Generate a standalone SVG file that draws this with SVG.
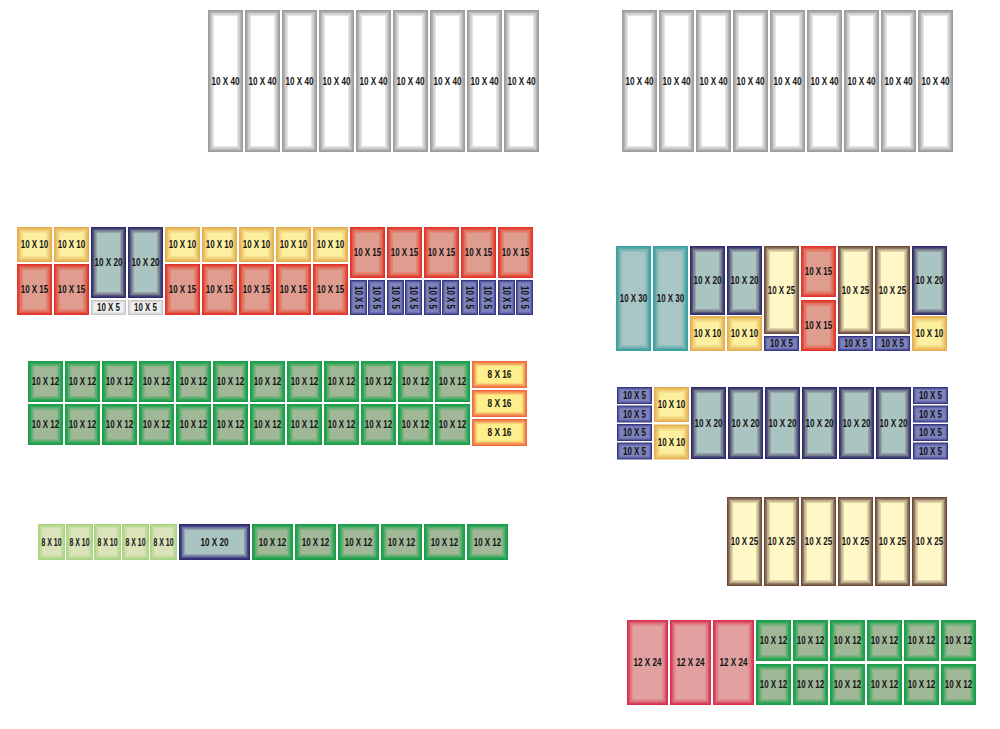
<svg xmlns="http://www.w3.org/2000/svg" width="1000" height="729" viewBox="0 0 1000 729">
<style>
.lb{font-family:"Liberation Sans",Arial,sans-serif;font-weight:bold;font-size:10.2px;fill:#141414;text-anchor:middle}
</style>
<defs>
<g id="gray"><rect width="35" height="142" fill="#9c9c9c"/><rect x="1.5" y="1.5" width="32" height="139" fill="#b4b4b4"/><rect x="3" y="3" width="29" height="136" fill="#cbcbcb"/><rect x="4.5" y="4.5" width="26" height="133" fill="#e4e4e4"/><rect x="6" y="6" width="23" height="130" fill="#ffffff"/></g>
<g id="yel"><rect width="35" height="35" fill="#e5ae52"/><rect x="1.5" y="1.5" width="32" height="32" fill="#ebc067"/><rect x="3" y="3" width="29" height="29" fill="#f1d27b"/><rect x="4.5" y="4.5" width="26" height="26" fill="#f6e28d"/><rect x="6" y="6" width="23" height="23" fill="#fcf0a0"/></g>
<g id="red"><rect width="35" height="51" fill="#e1322b"/><rect x="1.5" y="1.5" width="32" height="48" fill="#e35444"/><rect x="3" y="3" width="29" height="45" fill="#e2705f"/><rect x="4.5" y="4.5" width="26" height="42" fill="#e08878"/><rect x="6" y="6" width="23" height="39" fill="#df9d90"/></g>
<g id="navy71"><rect width="35" height="71" fill="#2d2a6d"/><rect x="1.5" y="1.5" width="32" height="68" fill="#55557a"/><rect x="3" y="3" width="29" height="65" fill="#777a8e"/><rect x="4.5" y="4.5" width="26" height="62" fill="#95a2a6"/><rect x="6" y="6" width="23" height="59" fill="#aac5c1"/></g>
<g id="navy69"><rect width="35" height="69" fill="#2d2a6d"/><rect x="1.5" y="1.5" width="32" height="66" fill="#55557a"/><rect x="3" y="3" width="29" height="63" fill="#777a8e"/><rect x="4.5" y="4.5" width="26" height="60" fill="#95a2a6"/><rect x="6" y="6" width="23" height="57" fill="#aac5c1"/></g>
<g id="navy72"><rect width="35" height="72" fill="#2d2a6d"/><rect x="1.5" y="1.5" width="32" height="69" fill="#55557a"/><rect x="3" y="3" width="29" height="66" fill="#777a8e"/><rect x="4.5" y="4.5" width="26" height="63" fill="#95a2a6"/><rect x="6" y="6" width="23" height="60" fill="#aac5c1"/></g>
<g id="navyh"><rect width="71" height="36" fill="#2d2a6d"/><rect x="1.5" y="1.5" width="68" height="33" fill="#4a4a8a"/><rect x="3" y="3" width="65" height="30" fill="#6d70a0"/><rect x="4.5" y="4.5" width="62" height="27" fill="#90a2b0"/><rect x="6" y="6" width="59" height="24" fill="#aac5c1"/></g>
<g id="lg5"><rect width="35" height="15" fill="#c6c6c6"/><rect x="1" y="1" width="33" height="13" fill="#d8d8d8"/><rect x="2" y="2" width="31" height="11" fill="#e6e6e6"/><rect x="3" y="3" width="29" height="9" fill="#f0f0f0"/></g>
<g id="b5v"><rect width="17" height="35" fill="#38387c"/><rect x="1" y="1" width="15" height="33" fill="#5558a0"/><rect x="2" y="2" width="13" height="31" fill="#6a70b0"/><rect x="3" y="3" width="11" height="29" fill="#7c82bc"/></g>
<g id="b5h"><rect width="35" height="15" fill="#38387c"/><rect x="1" y="1" width="33" height="13" fill="#5558a0"/><rect x="2" y="2" width="31" height="11" fill="#6a70b0"/><rect x="3" y="3" width="29" height="9" fill="#7c82bc"/></g>
<g id="b5s"><rect width="35" height="17" fill="#38387c"/><rect x="1" y="1" width="33" height="15" fill="#5558a0"/><rect x="2" y="2" width="31" height="13" fill="#6a70b0"/><rect x="3" y="3" width="29" height="11" fill="#7c82bc"/></g>
<g id="grn"><rect width="35" height="41" fill="#1b9d4a"/><rect x="1.5" y="1.5" width="32" height="38" fill="#2fa65a"/><rect x="3" y="3" width="29" height="35" fill="#55ad6c"/><rect x="4.5" y="4.5" width="26" height="32" fill="#80b482"/><rect x="6" y="6" width="23" height="29" fill="#a0b898"/></g>
<g id="grnh"><rect width="41" height="36" fill="#1b9d4a"/><rect x="1.5" y="1.5" width="38" height="33" fill="#2fa65a"/><rect x="3" y="3" width="35" height="30" fill="#55ad6c"/><rect x="4.5" y="4.5" width="32" height="27" fill="#80b482"/><rect x="6" y="6" width="29" height="24" fill="#a0b898"/></g>
<g id="org"><rect width="55" height="27" fill="#ee6840"/><rect x="1.3" y="1.3" width="52.4" height="24.4" fill="#f38a52"/><rect x="2.6" y="2.6" width="49.8" height="21.8" fill="#f8ae62"/><rect x="3.9" y="3.9" width="47.2" height="19.2" fill="#fbd676"/><rect x="5.2" y="5.2" width="44.6" height="16.6" fill="#fdf08c"/></g>
<g id="lgr"><rect width="27" height="36" fill="#a5d57e"/><rect x="1.2" y="1.2" width="24.6" height="33.6" fill="#b6d890"/><rect x="2.4" y="2.4" width="22.2" height="31.2" fill="#c6dca2"/><rect x="3.6" y="3.6" width="19.8" height="28.8" fill="#d2dfae"/><rect x="4.8" y="4.8" width="17.4" height="26.4" fill="#dbe3bb"/></g>
<g id="teal"><rect width="35" height="105" fill="#38a0a0"/><rect x="1.5" y="1.5" width="32" height="102" fill="#58a8aa"/><rect x="3" y="3" width="29" height="99" fill="#78b2b4"/><rect x="4.5" y="4.5" width="26" height="96" fill="#93bcbd"/><rect x="6" y="6" width="23" height="93" fill="#a9c6c6"/></g>
<g id="tan88"><rect width="35" height="88" fill="#6c4a3a"/><rect x="1.5" y="1.5" width="32" height="85" fill="#957c66"/><rect x="3" y="3" width="29" height="82" fill="#bbab8a"/><rect x="4.5" y="4.5" width="26" height="79" fill="#dfd6a8"/><rect x="6" y="6" width="23" height="76" fill="#fff7c6"/></g>
<g id="tan89"><rect width="35" height="89" fill="#6c4a3a"/><rect x="1.5" y="1.5" width="32" height="86" fill="#957c66"/><rect x="3" y="3" width="29" height="83" fill="#bbab8a"/><rect x="4.5" y="4.5" width="26" height="80" fill="#dfd6a8"/><rect x="6" y="6" width="23" height="77" fill="#fff7c6"/></g>
<g id="pink"><rect width="41" height="85" fill="#d72f50"/><rect x="1.5" y="1.5" width="38" height="82" fill="#da5466"/><rect x="3" y="3" width="35" height="79" fill="#dc7480"/><rect x="4.5" y="4.5" width="32" height="76" fill="#df8e92"/><rect x="6" y="6" width="29" height="73" fill="#e1a1a1"/></g>
</defs>

<!-- top left gray -->
<g id="tl1" transform="translate(208,10)"><use href="#gray"/><text class="lb" x="17.5" y="74.6" textLength="28" lengthAdjust="spacingAndGlyphs">10 X 40</text></g>
<g id="tl2" transform="translate(245,10)"><use href="#gray"/><text class="lb" x="17.5" y="74.6" textLength="28" lengthAdjust="spacingAndGlyphs">10 X 40</text></g>
<g id="tl3" transform="translate(282,10)"><use href="#gray"/><text class="lb" x="17.5" y="74.6" textLength="28" lengthAdjust="spacingAndGlyphs">10 X 40</text></g>
<g id="tl4" transform="translate(319,10)"><use href="#gray"/><text class="lb" x="17.5" y="74.6" textLength="28" lengthAdjust="spacingAndGlyphs">10 X 40</text></g>
<g id="tl5" transform="translate(356,10)"><use href="#gray"/><text class="lb" x="17.5" y="74.6" textLength="28" lengthAdjust="spacingAndGlyphs">10 X 40</text></g>
<g id="tl6" transform="translate(393,10)"><use href="#gray"/><text class="lb" x="17.5" y="74.6" textLength="28" lengthAdjust="spacingAndGlyphs">10 X 40</text></g>
<g id="tl7" transform="translate(430,10)"><use href="#gray"/><text class="lb" x="17.5" y="74.6" textLength="28" lengthAdjust="spacingAndGlyphs">10 X 40</text></g>
<g id="tl8" transform="translate(467,10)"><use href="#gray"/><text class="lb" x="17.5" y="74.6" textLength="28" lengthAdjust="spacingAndGlyphs">10 X 40</text></g>
<g id="tl9" transform="translate(504,10)"><use href="#gray"/><text class="lb" x="17.5" y="74.6" textLength="28" lengthAdjust="spacingAndGlyphs">10 X 40</text></g>

<!-- top right gray -->
<g id="tr1" transform="translate(622,10)"><use href="#gray"/><text class="lb" x="17.5" y="74.6" textLength="28" lengthAdjust="spacingAndGlyphs">10 X 40</text></g>
<g id="tr2" transform="translate(659,10)"><use href="#gray"/><text class="lb" x="17.5" y="74.6" textLength="28" lengthAdjust="spacingAndGlyphs">10 X 40</text></g>
<g id="tr3" transform="translate(696,10)"><use href="#gray"/><text class="lb" x="17.5" y="74.6" textLength="28" lengthAdjust="spacingAndGlyphs">10 X 40</text></g>
<g id="tr4" transform="translate(733,10)"><use href="#gray"/><text class="lb" x="17.5" y="74.6" textLength="28" lengthAdjust="spacingAndGlyphs">10 X 40</text></g>
<g id="tr5" transform="translate(770,10)"><use href="#gray"/><text class="lb" x="17.5" y="74.6" textLength="28" lengthAdjust="spacingAndGlyphs">10 X 40</text></g>
<g id="tr6" transform="translate(807,10)"><use href="#gray"/><text class="lb" x="17.5" y="74.6" textLength="28" lengthAdjust="spacingAndGlyphs">10 X 40</text></g>
<g id="tr7" transform="translate(844,10)"><use href="#gray"/><text class="lb" x="17.5" y="74.6" textLength="28" lengthAdjust="spacingAndGlyphs">10 X 40</text></g>
<g id="tr8" transform="translate(881,10)"><use href="#gray"/><text class="lb" x="17.5" y="74.6" textLength="28" lengthAdjust="spacingAndGlyphs">10 X 40</text></g>
<g id="tr9" transform="translate(918,10)"><use href="#gray"/><text class="lb" x="17.5" y="74.6" textLength="28" lengthAdjust="spacingAndGlyphs">10 X 40</text></g>

<!-- left mixed row -->
<g id="l1a" transform="translate(17,227)"><use href="#yel"/><text class="lb" x="17.5" y="21.1" textLength="27.5" lengthAdjust="spacingAndGlyphs">10 X 10</text></g>
<g id="l1b" transform="translate(17,264)"><use href="#red"/><text class="lb" x="17.5" y="29.1" textLength="27.5" lengthAdjust="spacingAndGlyphs">10 X 15</text></g>
<g id="l2a" transform="translate(54,227)"><use href="#yel"/><text class="lb" x="17.5" y="21.1" textLength="27.5" lengthAdjust="spacingAndGlyphs">10 X 10</text></g>
<g id="l2b" transform="translate(54,264)"><use href="#red"/><text class="lb" x="17.5" y="29.1" textLength="27.5" lengthAdjust="spacingAndGlyphs">10 X 15</text></g>
<g id="l3a" transform="translate(91,227)"><use href="#navy71"/><text class="lb" x="17.5" y="39.1" textLength="28" lengthAdjust="spacingAndGlyphs">10 X 20</text></g>
<g id="l3b" transform="translate(91,300)"><use href="#lg5"/><text class="lb" x="17.5" y="11.1" textLength="23" lengthAdjust="spacingAndGlyphs">10 X 5</text></g>
<g id="l4a" transform="translate(128,227)"><use href="#navy71"/><text class="lb" x="17.5" y="39.1" textLength="28" lengthAdjust="spacingAndGlyphs">10 X 20</text></g>
<g id="l4b" transform="translate(128,300)"><use href="#lg5"/><text class="lb" x="17.5" y="11.1" textLength="23" lengthAdjust="spacingAndGlyphs">10 X 5</text></g>
<g id="l5a" transform="translate(165,227)"><use href="#yel"/><text class="lb" x="17.5" y="21.1" textLength="27.5" lengthAdjust="spacingAndGlyphs">10 X 10</text></g>
<g id="l5b" transform="translate(165,264)"><use href="#red"/><text class="lb" x="17.5" y="29.1" textLength="27.5" lengthAdjust="spacingAndGlyphs">10 X 15</text></g>
<g id="l6a" transform="translate(202,227)"><use href="#yel"/><text class="lb" x="17.5" y="21.1" textLength="27.5" lengthAdjust="spacingAndGlyphs">10 X 10</text></g>
<g id="l6b" transform="translate(202,264)"><use href="#red"/><text class="lb" x="17.5" y="29.1" textLength="27.5" lengthAdjust="spacingAndGlyphs">10 X 15</text></g>
<g id="l7a" transform="translate(239,227)"><use href="#yel"/><text class="lb" x="17.5" y="21.1" textLength="27.5" lengthAdjust="spacingAndGlyphs">10 X 10</text></g>
<g id="l7b" transform="translate(239,264)"><use href="#red"/><text class="lb" x="17.5" y="29.1" textLength="27.5" lengthAdjust="spacingAndGlyphs">10 X 15</text></g>
<g id="l8a" transform="translate(276,227)"><use href="#yel"/><text class="lb" x="17.5" y="21.1" textLength="27.5" lengthAdjust="spacingAndGlyphs">10 X 10</text></g>
<g id="l8b" transform="translate(276,264)"><use href="#red"/><text class="lb" x="17.5" y="29.1" textLength="27.5" lengthAdjust="spacingAndGlyphs">10 X 15</text></g>
<g id="l9a" transform="translate(313,227)"><use href="#yel"/><text class="lb" x="17.5" y="21.1" textLength="27.5" lengthAdjust="spacingAndGlyphs">10 X 10</text></g>
<g id="l9b" transform="translate(313,264)"><use href="#red"/><text class="lb" x="17.5" y="29.1" textLength="27.5" lengthAdjust="spacingAndGlyphs">10 X 15</text></g>
<g id="l10a" transform="translate(350,227)"><use href="#red"/><text class="lb" x="17.5" y="29.1" textLength="27.5" lengthAdjust="spacingAndGlyphs">10 X 15</text></g>
<g id="l10b" transform="translate(350,280)"><use href="#b5v"/><text class="lb" transform="translate(8.5,17.5) rotate(90)" y="3.6" textLength="23" lengthAdjust="spacingAndGlyphs">10 X 5</text></g>
<g id="l10c" transform="translate(368,280)"><use href="#b5v"/><text class="lb" transform="translate(8.5,17.5) rotate(90)" y="3.6" textLength="23" lengthAdjust="spacingAndGlyphs">10 X 5</text></g>
<g id="l11a" transform="translate(387,227)"><use href="#red"/><text class="lb" x="17.5" y="29.1" textLength="27.5" lengthAdjust="spacingAndGlyphs">10 X 15</text></g>
<g id="l11b" transform="translate(387,280)"><use href="#b5v"/><text class="lb" transform="translate(8.5,17.5) rotate(90)" y="3.6" textLength="23" lengthAdjust="spacingAndGlyphs">10 X 5</text></g>
<g id="l11c" transform="translate(405,280)"><use href="#b5v"/><text class="lb" transform="translate(8.5,17.5) rotate(90)" y="3.6" textLength="23" lengthAdjust="spacingAndGlyphs">10 X 5</text></g>
<g id="l12a" transform="translate(424,227)"><use href="#red"/><text class="lb" x="17.5" y="29.1" textLength="27.5" lengthAdjust="spacingAndGlyphs">10 X 15</text></g>
<g id="l12b" transform="translate(424,280)"><use href="#b5v"/><text class="lb" transform="translate(8.5,17.5) rotate(90)" y="3.6" textLength="23" lengthAdjust="spacingAndGlyphs">10 X 5</text></g>
<g id="l12c" transform="translate(442,280)"><use href="#b5v"/><text class="lb" transform="translate(8.5,17.5) rotate(90)" y="3.6" textLength="23" lengthAdjust="spacingAndGlyphs">10 X 5</text></g>
<g id="l13a" transform="translate(461,227)"><use href="#red"/><text class="lb" x="17.5" y="29.1" textLength="27.5" lengthAdjust="spacingAndGlyphs">10 X 15</text></g>
<g id="l13b" transform="translate(461,280)"><use href="#b5v"/><text class="lb" transform="translate(8.5,17.5) rotate(90)" y="3.6" textLength="23" lengthAdjust="spacingAndGlyphs">10 X 5</text></g>
<g id="l13c" transform="translate(479,280)"><use href="#b5v"/><text class="lb" transform="translate(8.5,17.5) rotate(90)" y="3.6" textLength="23" lengthAdjust="spacingAndGlyphs">10 X 5</text></g>
<g id="l14a" transform="translate(498,227)"><use href="#red"/><text class="lb" x="17.5" y="29.1" textLength="27.5" lengthAdjust="spacingAndGlyphs">10 X 15</text></g>
<g id="l14b" transform="translate(498,280)"><use href="#b5v"/><text class="lb" transform="translate(8.5,17.5) rotate(90)" y="3.6" textLength="23" lengthAdjust="spacingAndGlyphs">10 X 5</text></g>
<g id="l14c" transform="translate(516,280)"><use href="#b5v"/><text class="lb" transform="translate(8.5,17.5) rotate(90)" y="3.6" textLength="23" lengthAdjust="spacingAndGlyphs">10 X 5</text></g>

<!-- green row -->
<g id="g1a" transform="translate(28,361)"><use href="#grn"/><text class="lb" x="17.5" y="24.1" textLength="27.5" lengthAdjust="spacingAndGlyphs">10 X 12</text></g>
<g id="g2a" transform="translate(65,361)"><use href="#grn"/><text class="lb" x="17.5" y="24.1" textLength="27.5" lengthAdjust="spacingAndGlyphs">10 X 12</text></g>
<g id="g3a" transform="translate(102,361)"><use href="#grn"/><text class="lb" x="17.5" y="24.1" textLength="27.5" lengthAdjust="spacingAndGlyphs">10 X 12</text></g>
<g id="g4a" transform="translate(139,361)"><use href="#grn"/><text class="lb" x="17.5" y="24.1" textLength="27.5" lengthAdjust="spacingAndGlyphs">10 X 12</text></g>
<g id="g5a" transform="translate(176,361)"><use href="#grn"/><text class="lb" x="17.5" y="24.1" textLength="27.5" lengthAdjust="spacingAndGlyphs">10 X 12</text></g>
<g id="g6a" transform="translate(213,361)"><use href="#grn"/><text class="lb" x="17.5" y="24.1" textLength="27.5" lengthAdjust="spacingAndGlyphs">10 X 12</text></g>
<g id="g7a" transform="translate(250,361)"><use href="#grn"/><text class="lb" x="17.5" y="24.1" textLength="27.5" lengthAdjust="spacingAndGlyphs">10 X 12</text></g>
<g id="g8a" transform="translate(287,361)"><use href="#grn"/><text class="lb" x="17.5" y="24.1" textLength="27.5" lengthAdjust="spacingAndGlyphs">10 X 12</text></g>
<g id="g9a" transform="translate(324,361)"><use href="#grn"/><text class="lb" x="17.5" y="24.1" textLength="27.5" lengthAdjust="spacingAndGlyphs">10 X 12</text></g>
<g id="g10a" transform="translate(361,361)"><use href="#grn"/><text class="lb" x="17.5" y="24.1" textLength="27.5" lengthAdjust="spacingAndGlyphs">10 X 12</text></g>
<g id="g11a" transform="translate(398,361)"><use href="#grn"/><text class="lb" x="17.5" y="24.1" textLength="27.5" lengthAdjust="spacingAndGlyphs">10 X 12</text></g>
<g id="g12a" transform="translate(435,361)"><use href="#grn"/><text class="lb" x="17.5" y="24.1" textLength="27.5" lengthAdjust="spacingAndGlyphs">10 X 12</text></g>
<g id="g1b" transform="translate(28,404)"><use href="#grn"/><text class="lb" x="17.5" y="24.1" textLength="27.5" lengthAdjust="spacingAndGlyphs">10 X 12</text></g>
<g id="g2b" transform="translate(65,404)"><use href="#grn"/><text class="lb" x="17.5" y="24.1" textLength="27.5" lengthAdjust="spacingAndGlyphs">10 X 12</text></g>
<g id="g3b" transform="translate(102,404)"><use href="#grn"/><text class="lb" x="17.5" y="24.1" textLength="27.5" lengthAdjust="spacingAndGlyphs">10 X 12</text></g>
<g id="g4b" transform="translate(139,404)"><use href="#grn"/><text class="lb" x="17.5" y="24.1" textLength="27.5" lengthAdjust="spacingAndGlyphs">10 X 12</text></g>
<g id="g5b" transform="translate(176,404)"><use href="#grn"/><text class="lb" x="17.5" y="24.1" textLength="27.5" lengthAdjust="spacingAndGlyphs">10 X 12</text></g>
<g id="g6b" transform="translate(213,404)"><use href="#grn"/><text class="lb" x="17.5" y="24.1" textLength="27.5" lengthAdjust="spacingAndGlyphs">10 X 12</text></g>
<g id="g7b" transform="translate(250,404)"><use href="#grn"/><text class="lb" x="17.5" y="24.1" textLength="27.5" lengthAdjust="spacingAndGlyphs">10 X 12</text></g>
<g id="g8b" transform="translate(287,404)"><use href="#grn"/><text class="lb" x="17.5" y="24.1" textLength="27.5" lengthAdjust="spacingAndGlyphs">10 X 12</text></g>
<g id="g9b" transform="translate(324,404)"><use href="#grn"/><text class="lb" x="17.5" y="24.1" textLength="27.5" lengthAdjust="spacingAndGlyphs">10 X 12</text></g>
<g id="g10b" transform="translate(361,404)"><use href="#grn"/><text class="lb" x="17.5" y="24.1" textLength="27.5" lengthAdjust="spacingAndGlyphs">10 X 12</text></g>
<g id="g11b" transform="translate(398,404)"><use href="#grn"/><text class="lb" x="17.5" y="24.1" textLength="27.5" lengthAdjust="spacingAndGlyphs">10 X 12</text></g>
<g id="g12b" transform="translate(435,404)"><use href="#grn"/><text class="lb" x="17.5" y="24.1" textLength="27.5" lengthAdjust="spacingAndGlyphs">10 X 12</text></g>
<g id="o1" transform="translate(472,361)"><use href="#org"/><text class="lb" x="27.5" y="17.1" textLength="24" lengthAdjust="spacingAndGlyphs">8 X 16</text></g>
<g id="o2" transform="translate(472,390)"><use href="#org"/><text class="lb" x="27.5" y="17.1" textLength="24" lengthAdjust="spacingAndGlyphs">8 X 16</text></g>
<g id="o3" transform="translate(472,419)"><use href="#org"/><text class="lb" x="27.5" y="17.1" textLength="24" lengthAdjust="spacingAndGlyphs">8 X 16</text></g>

<!-- bottom left row -->
<g id="b1" transform="translate(38,524)"><use href="#lgr"/><text class="lb" x="13.5" y="21.6" textLength="20" lengthAdjust="spacingAndGlyphs">8 X 10</text></g>
<g id="b2" transform="translate(66,524)"><use href="#lgr"/><text class="lb" x="13.5" y="21.6" textLength="20" lengthAdjust="spacingAndGlyphs">8 X 10</text></g>
<g id="b3" transform="translate(94,524)"><use href="#lgr"/><text class="lb" x="13.5" y="21.6" textLength="20" lengthAdjust="spacingAndGlyphs">8 X 10</text></g>
<g id="b4" transform="translate(122,524)"><use href="#lgr"/><text class="lb" x="13.5" y="21.6" textLength="20" lengthAdjust="spacingAndGlyphs">8 X 10</text></g>
<g id="b5" transform="translate(150,524)"><use href="#lgr"/><text class="lb" x="13.5" y="21.6" textLength="20" lengthAdjust="spacingAndGlyphs">8 X 10</text></g>
<g id="b6" transform="translate(179,524)"><use href="#navyh"/><text class="lb" x="35.5" y="21.6" textLength="28" lengthAdjust="spacingAndGlyphs">10 X 20</text></g>
<g id="b7" transform="translate(252,524)"><use href="#grnh"/><text class="lb" x="20.5" y="21.6" textLength="27.5" lengthAdjust="spacingAndGlyphs">10 X 12</text></g>
<g id="b8" transform="translate(295,524)"><use href="#grnh"/><text class="lb" x="20.5" y="21.6" textLength="27.5" lengthAdjust="spacingAndGlyphs">10 X 12</text></g>
<g id="b9" transform="translate(338,524)"><use href="#grnh"/><text class="lb" x="20.5" y="21.6" textLength="27.5" lengthAdjust="spacingAndGlyphs">10 X 12</text></g>
<g id="b10" transform="translate(381,524)"><use href="#grnh"/><text class="lb" x="20.5" y="21.6" textLength="27.5" lengthAdjust="spacingAndGlyphs">10 X 12</text></g>
<g id="b11" transform="translate(424,524)"><use href="#grnh"/><text class="lb" x="20.5" y="21.6" textLength="27.5" lengthAdjust="spacingAndGlyphs">10 X 12</text></g>
<g id="b12" transform="translate(467,524)"><use href="#grnh"/><text class="lb" x="20.5" y="21.6" textLength="27.5" lengthAdjust="spacingAndGlyphs">10 X 12</text></g>

<!-- right row 1 -->
<g id="r1" transform="translate(616,246)"><use href="#teal"/><text class="lb" x="17.5" y="56.1" textLength="27.5" lengthAdjust="spacingAndGlyphs">10 X 30</text></g>
<g id="r2" transform="translate(653,246)"><use href="#teal"/><text class="lb" x="17.5" y="56.1" textLength="27.5" lengthAdjust="spacingAndGlyphs">10 X 30</text></g>
<g id="r3a" transform="translate(690,246)"><use href="#navy69"/><text class="lb" x="17.5" y="38.1" textLength="28" lengthAdjust="spacingAndGlyphs">10 X 20</text></g>
<g id="r3b" transform="translate(690,316)"><use href="#yel"/><text class="lb" x="17.5" y="21.1" textLength="27.5" lengthAdjust="spacingAndGlyphs">10 X 10</text></g>
<g id="r4a" transform="translate(727,246)"><use href="#navy69"/><text class="lb" x="17.5" y="38.1" textLength="28" lengthAdjust="spacingAndGlyphs">10 X 20</text></g>
<g id="r4b" transform="translate(727,316)"><use href="#yel"/><text class="lb" x="17.5" y="21.1" textLength="27.5" lengthAdjust="spacingAndGlyphs">10 X 10</text></g>
<g id="r5a" transform="translate(764,246)"><use href="#tan88"/><text class="lb" x="17.5" y="47.6" textLength="27.5" lengthAdjust="spacingAndGlyphs">10 X 25</text></g>
<g id="r5b" transform="translate(764,336)"><use href="#b5h"/><text class="lb" x="17.5" y="11.1" textLength="23" lengthAdjust="spacingAndGlyphs">10 X 5</text></g>
<g id="r6a" transform="translate(801,246)"><use href="#red"/><text class="lb" x="17.5" y="29.1" textLength="27.5" lengthAdjust="spacingAndGlyphs">10 X 15</text></g>
<g id="r6b" transform="translate(801,300)"><use href="#red"/><text class="lb" x="17.5" y="29.1" textLength="27.5" lengthAdjust="spacingAndGlyphs">10 X 15</text></g>
<g id="r7a" transform="translate(838,246)"><use href="#tan88"/><text class="lb" x="17.5" y="47.6" textLength="27.5" lengthAdjust="spacingAndGlyphs">10 X 25</text></g>
<g id="r7b" transform="translate(838,336)"><use href="#b5h"/><text class="lb" x="17.5" y="11.1" textLength="23" lengthAdjust="spacingAndGlyphs">10 X 5</text></g>
<g id="r8a" transform="translate(875,246)"><use href="#tan88"/><text class="lb" x="17.5" y="47.6" textLength="27.5" lengthAdjust="spacingAndGlyphs">10 X 25</text></g>
<g id="r8b" transform="translate(875,336)"><use href="#b5h"/><text class="lb" x="17.5" y="11.1" textLength="23" lengthAdjust="spacingAndGlyphs">10 X 5</text></g>
<g id="r9a" transform="translate(912,246)"><use href="#navy69"/><text class="lb" x="17.5" y="38.1" textLength="28" lengthAdjust="spacingAndGlyphs">10 X 20</text></g>
<g id="r9b" transform="translate(912,316)"><use href="#yel"/><text class="lb" x="17.5" y="21.1" textLength="27.5" lengthAdjust="spacingAndGlyphs">10 X 10</text></g>

<!-- right row 2 -->
<g id="s1a" transform="translate(617,387)"><use href="#b5s"/><text class="lb" x="17.5" y="12.1" textLength="23" lengthAdjust="spacingAndGlyphs">10 X 5</text></g>
<g id="s1b" transform="translate(617,405.5)"><use href="#b5s"/><text class="lb" x="17.5" y="12.1" textLength="23" lengthAdjust="spacingAndGlyphs">10 X 5</text></g>
<g id="s1c" transform="translate(617,424)"><use href="#b5s"/><text class="lb" x="17.5" y="12.1" textLength="23" lengthAdjust="spacingAndGlyphs">10 X 5</text></g>
<g id="s1d" transform="translate(617,442.5)"><use href="#b5s"/><text class="lb" x="17.5" y="12.1" textLength="23" lengthAdjust="spacingAndGlyphs">10 X 5</text></g>
<g id="s2a" transform="translate(654,387)"><use href="#yel"/><text class="lb" x="17.5" y="21.1" textLength="27.5" lengthAdjust="spacingAndGlyphs">10 X 10</text></g>
<g id="s2b" transform="translate(654,424.5)"><use href="#yel"/><text class="lb" x="17.5" y="21.1" textLength="27.5" lengthAdjust="spacingAndGlyphs">10 X 10</text></g>
<g id="s3" transform="translate(691,387)"><use href="#navy72"/><text class="lb" x="17.5" y="39.6" textLength="28" lengthAdjust="spacingAndGlyphs">10 X 20</text></g>
<g id="s4" transform="translate(728,387)"><use href="#navy72"/><text class="lb" x="17.5" y="39.6" textLength="28" lengthAdjust="spacingAndGlyphs">10 X 20</text></g>
<g id="s5" transform="translate(765,387)"><use href="#navy72"/><text class="lb" x="17.5" y="39.6" textLength="28" lengthAdjust="spacingAndGlyphs">10 X 20</text></g>
<g id="s6" transform="translate(802,387)"><use href="#navy72"/><text class="lb" x="17.5" y="39.6" textLength="28" lengthAdjust="spacingAndGlyphs">10 X 20</text></g>
<g id="s7" transform="translate(839,387)"><use href="#navy72"/><text class="lb" x="17.5" y="39.6" textLength="28" lengthAdjust="spacingAndGlyphs">10 X 20</text></g>
<g id="s8" transform="translate(876,387)"><use href="#navy72"/><text class="lb" x="17.5" y="39.6" textLength="28" lengthAdjust="spacingAndGlyphs">10 X 20</text></g>
<g id="s9a" transform="translate(913,387)"><use href="#b5s"/><text class="lb" x="17.5" y="12.1" textLength="23" lengthAdjust="spacingAndGlyphs">10 X 5</text></g>
<g id="s9b" transform="translate(913,405.5)"><use href="#b5s"/><text class="lb" x="17.5" y="12.1" textLength="23" lengthAdjust="spacingAndGlyphs">10 X 5</text></g>
<g id="s9c" transform="translate(913,424)"><use href="#b5s"/><text class="lb" x="17.5" y="12.1" textLength="23" lengthAdjust="spacingAndGlyphs">10 X 5</text></g>
<g id="s9d" transform="translate(913,442.5)"><use href="#b5s"/><text class="lb" x="17.5" y="12.1" textLength="23" lengthAdjust="spacingAndGlyphs">10 X 5</text></g>

<!-- 10x25 row -->
<g id="t1" transform="translate(727,497)"><use href="#tan89"/><text class="lb" x="17.5" y="48.1" textLength="27.5" lengthAdjust="spacingAndGlyphs">10 X 25</text></g>
<g id="t2" transform="translate(764,497)"><use href="#tan89"/><text class="lb" x="17.5" y="48.1" textLength="27.5" lengthAdjust="spacingAndGlyphs">10 X 25</text></g>
<g id="t3" transform="translate(801,497)"><use href="#tan89"/><text class="lb" x="17.5" y="48.1" textLength="27.5" lengthAdjust="spacingAndGlyphs">10 X 25</text></g>
<g id="t4" transform="translate(838,497)"><use href="#tan89"/><text class="lb" x="17.5" y="48.1" textLength="27.5" lengthAdjust="spacingAndGlyphs">10 X 25</text></g>
<g id="t5" transform="translate(875,497)"><use href="#tan89"/><text class="lb" x="17.5" y="48.1" textLength="27.5" lengthAdjust="spacingAndGlyphs">10 X 25</text></g>
<g id="t6" transform="translate(912,497)"><use href="#tan89"/><text class="lb" x="17.5" y="48.1" textLength="27.5" lengthAdjust="spacingAndGlyphs">10 X 25</text></g>

<!-- bottom right -->
<g id="p1" transform="translate(627,620)"><use href="#pink"/><text class="lb" x="20.5" y="46.1" textLength="28" lengthAdjust="spacingAndGlyphs">12 X 24</text></g>
<g id="p2" transform="translate(670,620)"><use href="#pink"/><text class="lb" x="20.5" y="46.1" textLength="28" lengthAdjust="spacingAndGlyphs">12 X 24</text></g>
<g id="p3" transform="translate(713,620)"><use href="#pink"/><text class="lb" x="20.5" y="46.1" textLength="28" lengthAdjust="spacingAndGlyphs">12 X 24</text></g>
<g id="q1a" transform="translate(756,620)"><use href="#grn"/><text class="lb" x="17.5" y="24.1" textLength="27.5" lengthAdjust="spacingAndGlyphs">10 X 12</text></g>
<g id="q2a" transform="translate(793,620)"><use href="#grn"/><text class="lb" x="17.5" y="24.1" textLength="27.5" lengthAdjust="spacingAndGlyphs">10 X 12</text></g>
<g id="q3a" transform="translate(830,620)"><use href="#grn"/><text class="lb" x="17.5" y="24.1" textLength="27.5" lengthAdjust="spacingAndGlyphs">10 X 12</text></g>
<g id="q4a" transform="translate(867,620)"><use href="#grn"/><text class="lb" x="17.5" y="24.1" textLength="27.5" lengthAdjust="spacingAndGlyphs">10 X 12</text></g>
<g id="q5a" transform="translate(904,620)"><use href="#grn"/><text class="lb" x="17.5" y="24.1" textLength="27.5" lengthAdjust="spacingAndGlyphs">10 X 12</text></g>
<g id="q6a" transform="translate(941,620)"><use href="#grn"/><text class="lb" x="17.5" y="24.1" textLength="27.5" lengthAdjust="spacingAndGlyphs">10 X 12</text></g>
<g id="q1b" transform="translate(756,664)"><use href="#grn"/><text class="lb" x="17.5" y="24.1" textLength="27.5" lengthAdjust="spacingAndGlyphs">10 X 12</text></g>
<g id="q2b" transform="translate(793,664)"><use href="#grn"/><text class="lb" x="17.5" y="24.1" textLength="27.5" lengthAdjust="spacingAndGlyphs">10 X 12</text></g>
<g id="q3b" transform="translate(830,664)"><use href="#grn"/><text class="lb" x="17.5" y="24.1" textLength="27.5" lengthAdjust="spacingAndGlyphs">10 X 12</text></g>
<g id="q4b" transform="translate(867,664)"><use href="#grn"/><text class="lb" x="17.5" y="24.1" textLength="27.5" lengthAdjust="spacingAndGlyphs">10 X 12</text></g>
<g id="q5b" transform="translate(904,664)"><use href="#grn"/><text class="lb" x="17.5" y="24.1" textLength="27.5" lengthAdjust="spacingAndGlyphs">10 X 12</text></g>
<g id="q6b" transform="translate(941,664)"><use href="#grn"/><text class="lb" x="17.5" y="24.1" textLength="27.5" lengthAdjust="spacingAndGlyphs">10 X 12</text></g>
</svg>
